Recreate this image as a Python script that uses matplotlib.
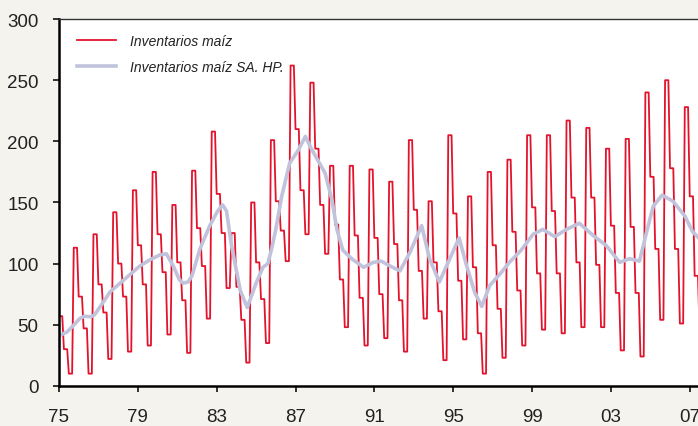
import numpy as np
import matplotlib.pyplot as plt

# inventarios trimestrales (Q1 1975 ... Q3 2007)
inv_q = [57, 30, 10, 113,
         73, 47, 10, 124,
         83, 60, 22, 142,
         100, 73, 28, 160,
         115, 83, 33, 175,
         124, 93, 42, 148,
         101, 70, 27, 176,
         129, 98, 55, 208,
         157, 125, 80, 125,
         81, 54, 19, 150,
         101, 71, 35, 201,
         151, 127, 102, 262,
         210, 160, 124, 248,
         194, 148, 108, 180,
         132, 87, 48, 180,
         123, 72, 33, 177,
         121, 75, 39, 167,
         116, 70, 28, 201,
         144, 94, 55, 151,
         101, 61, 21, 205,
         141, 86, 38, 155,
         97, 43, 10, 175,
         115, 63, 23, 185,
         126, 78, 33, 205,
         146, 92, 46, 205,
         143, 92, 43, 217,
         154, 101, 48, 211,
         154, 99, 48, 194,
         131, 76, 29, 202,
         130, 76, 24, 240,
         171, 112, 54, 250,
         178, 112, 51, 228,
         155, 90, 45]

# serie desestacionalizada + filtro HP
hp_years = [1975.0, 1975.4, 1975.65, 1976.05, 1976.3, 1976.6, 1976.8, 1977.1, 1977.6,
            1978.1, 1978.6, 1979.1, 1979.6, 1980.1, 1980.45, 1980.8, 1981.1, 1981.3,
            1981.55, 1981.75, 1982.15, 1982.65, 1983.05, 1983.3, 1983.5, 1983.75,
            1984.2, 1984.55, 1985.0, 1985.35, 1985.6, 1985.8, 1986.0, 1986.3, 1986.7,
            1987.15, 1987.5, 1987.8, 1988.15, 1988.5, 1988.85, 1989.1, 1989.4, 1989.85,
            1990.45, 1990.95, 1991.35, 1991.8, 1992.3, 1992.8, 1993.4, 1993.8, 1994.3,
            1994.8, 1995.3, 1995.65, 1996.1, 1996.45, 1996.85, 1997.35, 1997.85,
            1998.45, 1999.05, 1999.55, 2000.15, 2000.75, 2001.4, 2002.1, 2002.75,
            2003.45, 2003.95, 2004.45, 2004.8, 2005.15, 2005.6, 2006.15, 2006.75,
            2007.15, 2007.45]
hp_values = [41, 44, 48, 55, 57, 56.5, 58, 65, 77,
             84, 91, 98, 103, 107, 108, 98, 87, 84,
             85, 90, 112, 131, 143, 148, 143, 115,
             78, 64, 84, 97, 100, 113, 128, 155, 182,
             193, 204, 194, 184, 174, 152, 128, 111, 104,
             97, 101, 102, 98, 94, 109, 131, 104, 85,
             103, 121, 100, 76, 65, 82, 91, 101,
             111, 124, 128, 122, 128, 133, 123, 115,
             101, 104, 102, 125, 147, 156, 151, 139,
             126, 121]

tick_years = [1975, 1979, 1983, 1987, 1991, 1995, 1999, 2003, 2007]
tick_labels = ['75', '79', '83', '87', '91', '95', '99', '03', '07']

plt.rcParams['font.family'] = ['Liberation Sans', 'DejaVu Sans']

# cada trimestre se mantiene durante sus tres meses
inv_m = np.repeat(inv_q, 3)
months = 1975 + np.arange(len(inv_m)) / 12

fig = plt.figure(figsize=(6.98, 4.27), dpi=100, facecolor='#f4f3ee')
ax = fig.add_axes([0.0845, 0.094, 0.9155, 0.859])
ax.set_facecolor('white')

ax.plot(months, inv_m, color='#e3132c', lw=1.3, label='Inventarios maíz')
ax.plot(hp_years, hp_values, color='#c0c3db', lw=2.6, label='Inventarios maíz SA. HP.')

ax.set_xlim(1975, 2007.42)
ax.set_ylim(0, 300)
ax.set_yticks(range(0, 301, 50))
ax.set_xticks(tick_years)
ax.set_xticklabels(tick_labels)

for s in ['left', 'bottom']:
    ax.spines[s].set_linewidth(1.8)
ax.spines['top'].set_linewidth(1.0)
ax.spines['top'].set_color('#333333')
ax.spines['right'].set_visible(False)

ax.tick_params(axis='y', direction='out', length=4.2, width=1.3, pad=10.5, labelsize=13.5, colors='#222222')
ax.tick_params(axis='x', direction='out', length=4.2, width=1.3, pad=12, labelsize=13.5, colors='#222222')

leg = ax.legend(loc='upper left', frameon=False, fontsize=10, handlelength=2.75,
                handletextpad=1.05, labelspacing=0.85, borderaxespad=0,
                bbox_to_anchor=(0.02, 0.975))
for t in leg.get_texts():
    t.set_style('italic')
    t.set_color('#222222')

fig.savefig('out.png', dpi=100, facecolor=fig.get_facecolor())
